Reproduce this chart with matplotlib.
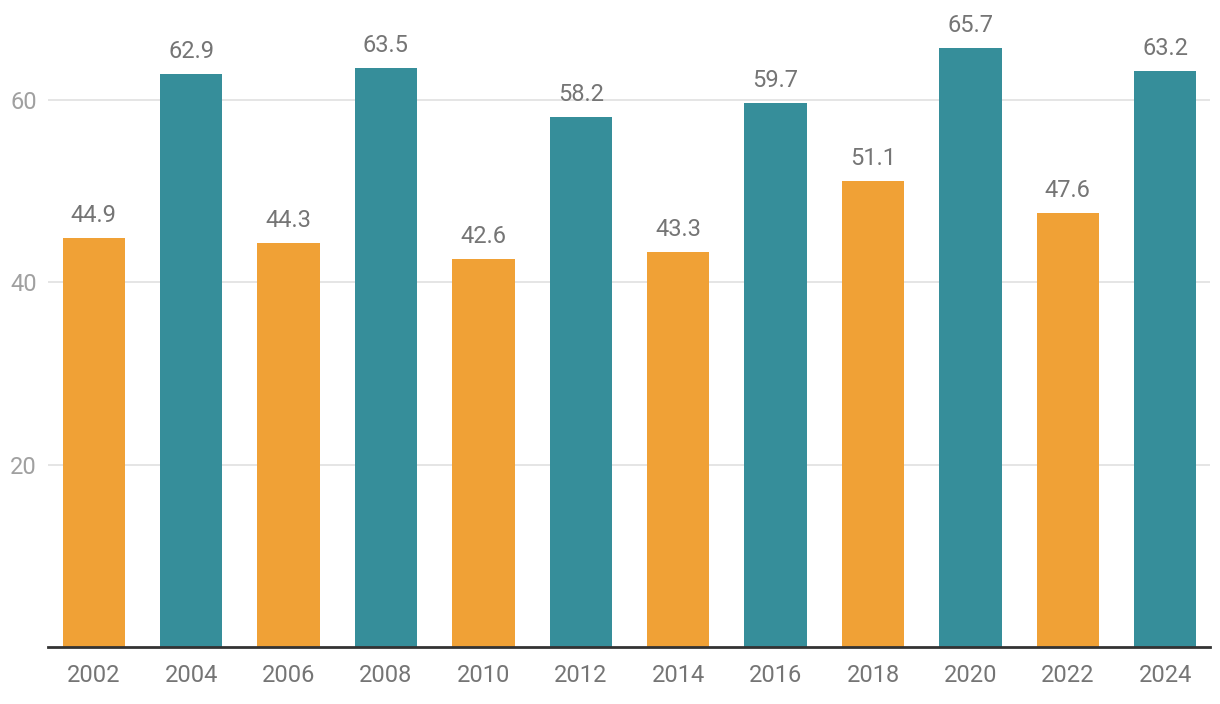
import matplotlib
matplotlib.use("Agg")
import matplotlib.pyplot as plt

years = ["2002", "2004", "2006", "2008", "2010", "2012", "2014", "2016", "2018", "2020", "2022", "2024"]
values = [44.9, 62.9, 44.3, 63.5, 42.6, 58.2, 43.3, 59.7, 51.1, 65.7, 47.6, 63.2]
colors = ["#F0A136", "#368E9A"] * 6
yticks = [20, 40, 60]

plt.rcParams['font.family'] = ['Roboto', 'DejaVu Sans']

fig = plt.figure(figsize=(12.2, 7.04), dpi=100)
ax = fig.add_axes([48/1220, (704-647)/704, 1162/1220, 647/704])

x = list(range(len(years)))
bars = ax.bar(x, values, width=0.64, color=colors, zorder=2)
for xi, v in zip(x, values):
    ax.annotate(f"{v:.1f}", (xi, v), xytext=(0, 8), textcoords="offset points",
                ha="center", va="bottom", fontsize=17, color="#757575")

ax.set_xlim(-0.47, 11.46)
ax.set_ylim(0, 71)
ax.set_yticks(yticks)
ax.set_yticklabels([str(t) for t in yticks])
ax.set_xticks(x)
ax.set_xticklabels(years)
ax.grid(axis="y", color="#e3e3e3", linewidth=1.3, zorder=0)
ax.set_axisbelow(True)
for s in ["top", "right", "left"]:
    ax.spines[s].set_visible(False)
ax.spines["bottom"].set_color("#333333")
ax.spines["bottom"].set_linewidth(2)
ax.tick_params(axis="both", length=0)
ax.tick_params(axis="x", labelsize=17, labelcolor="#757575", pad=12)
ax.tick_params(axis="y", labelsize=17, labelcolor="#a0a0a0", pad=8)

fig.savefig("out.png", dpi=100)
